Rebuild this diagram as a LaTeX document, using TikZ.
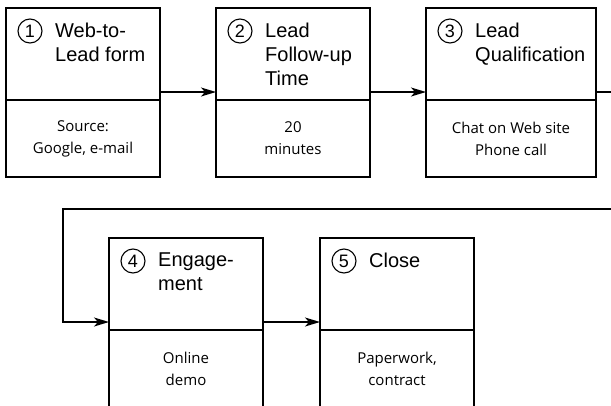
\documentclass[tikz,border=0pt]{standalone}
\usepackage{fontspec}
\setmainfont{Liberation Sans}
\newfontfamily\handfont{Open Sans}
\usetikzlibrary{arrows.meta,positioning}

\begin{document}
\begin{tikzpicture}[x=1pt,y=-1pt,
    head/.style={draw,line width=1.3pt,anchor=north west,minimum height=92pt,
      inner sep=0pt,outer sep=0pt},
    body/.style={draw,line width=1.3pt,anchor=north,minimum height=77pt,inner sep=0pt,
      outer sep=0pt,align=center,font=\handfont\fontsize{15}{22}\selectfont},
    num/.style={draw,circle,line width=1.1pt,minimum size=24pt,inner sep=0pt,
      font=\fontsize{18}{18}\selectfont},
    title/.style={anchor=north west,inner sep=0pt,align=left,font=\fontsize{20}{24}\selectfont},
    flow/.style={line width=1.3pt,-{Stealth[length=15pt,width=9pt,inset=4pt]}}]
  \useasboundingbox (0,0) rectangle (611,405);
  \clip (0,0) rectangle (611,405);
  % upper halves, top row then bottom row
  \node[head,minimum width=154pt] (h1) at (6,8) {};
  \node[head,minimum width=154pt] (h2) at (216,8) {};
  \node[head,minimum width=170pt] (h3) at (426,8) {};
  \node[head,minimum width=154pt] (h4) at (109,238) {};
  \node[head,minimum width=154pt] (h5) at (320,238) {};
  % lower halves
  \node[body,minimum width=154pt] (b1) at (h1.south) {Source:\\Google, e-mail};
  \node[body,minimum width=154pt] (b2) at (h2.south) {20\\minutes};
  \node[body,minimum width=170pt] (b3) at (h3.south) {Chat on Web site\\Phone call};
  \node[body,minimum width=154pt] (b4) at (h4.south) {Online\\demo};
  \node[body,minimum width=154pt] (b5) at (h5.south) {Paperwork,\\contract};
  % numbers and titles
  \foreach \i/\txt in {1/{Web-to-\\Lead form},2/{Lead\\Follow-up\\Time},
      3/{Lead\\Qualification},4/{Engage-\\ment},5/{Close}} {
    \node[num] (n\i) at ([shift={(24pt,-23pt)}]h\i.north west) {\i};
    \node[title] (t\i) at ([shift={(49pt,-15pt)}]h\i.north west) {\txt};
  }
  \coordinate (turn) at (640,209);
  \coordinate (back) at (63,209);
  \draw[flow] ([yshift=8pt]h1.south east) -- ([yshift=8pt]h2.south west);
  \draw[flow] ([yshift=8pt]h2.south east) -- ([yshift=8pt]h3.south west);
  \draw[flow] ([yshift=8pt]h3.south east) -| (turn) -- (back) |- ([yshift=8pt]h4.south west);
  \draw[flow] ([yshift=8pt]h4.south east) -- ([yshift=8pt]h5.south west);
\end{tikzpicture}
\end{document}
